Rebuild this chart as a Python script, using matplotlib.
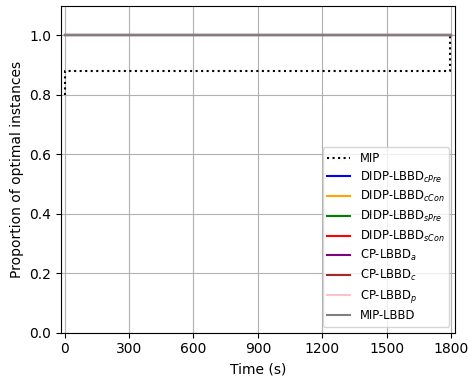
import matplotlib
matplotlib.use("Agg")
import matplotlib.pyplot as plt

# MIP: proportion of optimal instances over time (step)
mip_t = [0, 2, 1796, 1800]
mip_y = [0.80, 0.88, 1.00, 1.00]

# all other methods solve everything from the start
other_t = [0, 1800]
other_y = [1.0, 1.0]

methods = [
    ("DIDP-LBBD$_{cPre}$", "blue"),
    ("DIDP-LBBD$_{cCon}$", "orange"),
    ("DIDP-LBBD$_{sPre}$", "green"),
    ("DIDP-LBBD$_{sCon}$", "red"),
    ("CP-LBBD$_a$", "purple"),
    ("CP-LBBD$_c$", "brown"),
    ("CP-LBBD$_p$", "pink"),
    ("MIP-LBBD", "gray"),
]

xticks = [0, 300, 600, 900, 1200, 1500, 1800]

fig, ax = plt.subplots(figsize=(4.68, 3.76), dpi=100)
ax.step(mip_t, mip_y, where="post", color="black", linestyle=":", label="MIP")
for name, col in methods:
    ax.step(other_t, other_y, where="post", color=col, label=name)

ax.set_xlim(-18, 1818)
ax.set_ylim(0, 1.1)
ax.set_xticks(xticks)
ax.set_xlabel("Time (s)")
ax.set_ylabel("Proportion of optimal instances")
ax.grid(True)
ax.legend(loc="lower right", fontsize=8.3, labelspacing=0.4)
fig.subplots_adjust(left=0.13, right=0.972, bottom=0.115, top=0.985)
fig.savefig("out.png")
